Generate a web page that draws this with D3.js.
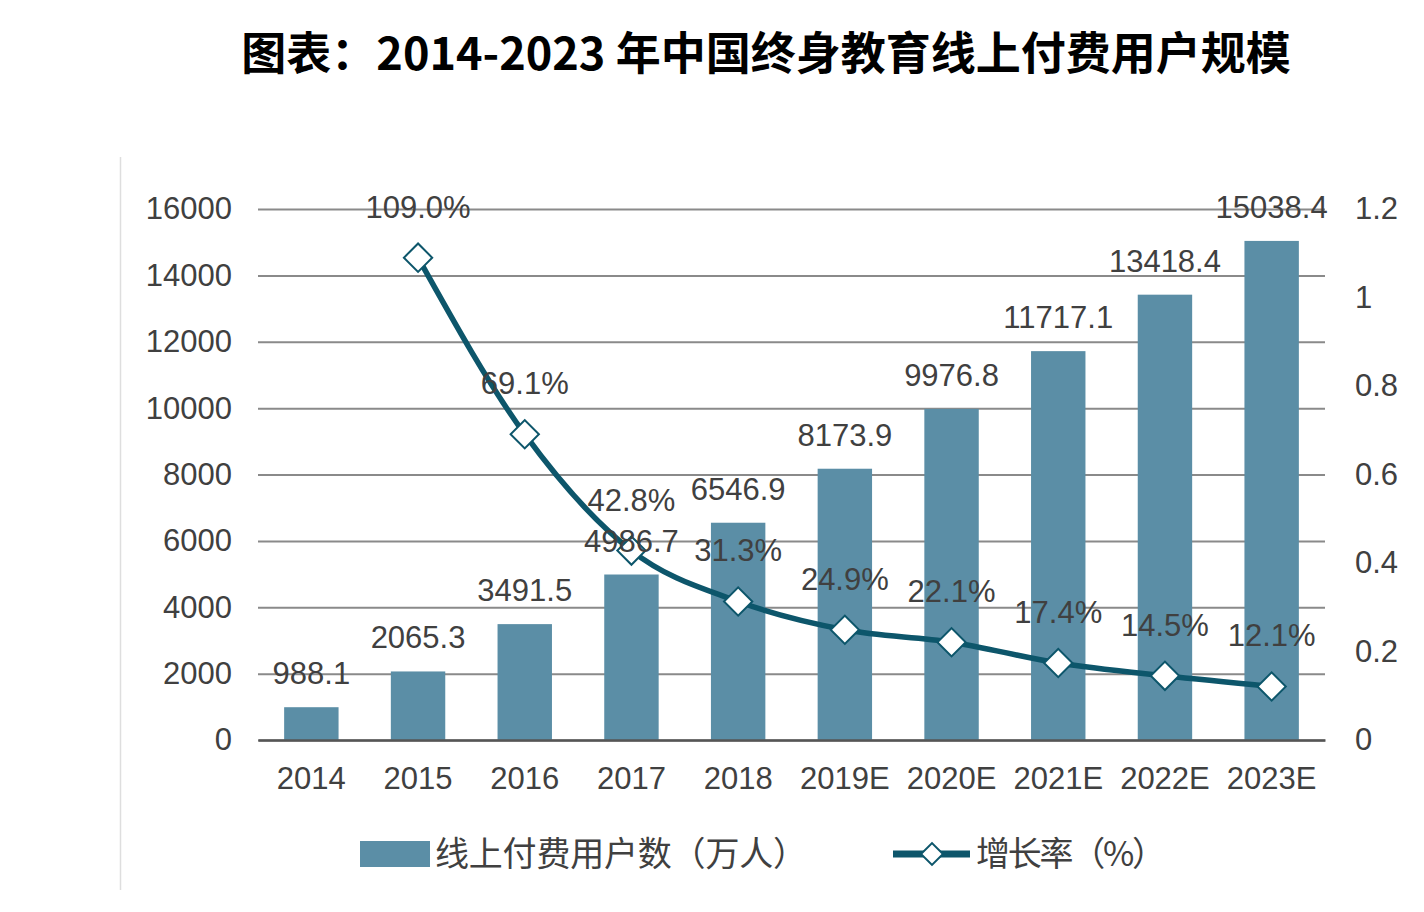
<!DOCTYPE html>
<html><head><meta charset="utf-8">
<script src="https://cdn.jsdelivr.net/npm/d3@7/dist/d3.min.js"></script>
<style>
html,body{margin:0;padding:0;background:#fff;}
svg{display:block;}
</style></head>
<body>
<svg id="chart" width="1424" height="912"></svg>
<script>
const title = "图表：2014-2023 年中国终身教育线上付费用户规模";
const categories = ["2014","2015","2016","2017","2018","2019E","2020E","2021E","2022E","2023E"];
const users = [988.1, 2065.3, 3491.5, 4986.7, 6546.9, 8173.9, 9976.8, 11717.1, 13418.4, 15038.4];
const userLabels = ["988.1","2065.3","3491.5","4986.7","6546.9","8173.9","9976.8","11717.1","13418.4","15038.4"];
const growth = [null, 1.09, 0.691, 0.428, 0.313, 0.249, 0.221, 0.174, 0.145, 0.121];
const growthLabels = [null, "109.0%", "69.1%", "42.8%", "31.3%", "24.9%", "22.1%", "17.4%", "14.5%", "12.1%"];
const leftTicks = [0,2000,4000,6000,8000,10000,12000,14000,16000];
const rightTicks = [0,0.2,0.4,0.6,0.8,1,1.2];
const rightTickLabels = ["0","0.2","0.4","0.6","0.8","1","1.2"];
const legendLabels = ["线上付费用户数（万人）","增长率（%）"];

(function(){
const svg = d3.select("#chart");
const font = "'Liberation Sans', Arial, sans-serif";
const barColor = "#5b8ea6";
const lineColor = "#0d566b";
const textColor = "#404040";

const pLeft = 258, pRight = 1325, pTop = 209, pBottom = 740;
const x = d3.scaleBand().domain(categories).range([pLeft, pRight]).paddingInner(0.49).paddingOuter(0.245);
const y = d3.scaleLinear().domain([0,16000]).range([pBottom, pTop]);
const y2 = d3.scaleLinear().domain([0,1.2]).range([pBottom, pTop]);

// title
svg.append("text").attr("x", 766).attr("y", 70).attr("text-anchor","middle")
  .attr("font-family","'Noto Sans CJK SC', sans-serif").attr("font-weight",700)
  .attr("font-size",45).attr("fill","#000").text(title);

// left border line
svg.append("line").attr("x1",120.5).attr("x2",120.5).attr("y1",157).attr("y2",890)
  .attr("stroke","#dedede").attr("stroke-width",1.5);

// gridlines
const yAxisL = d3.axisLeft(y).tickValues(leftTicks).tickSize(-(pRight-pLeft)).tickFormat(d=>d);
const gL = svg.append("g").attr("transform",`translate(${pLeft},0)`).call(yAxisL);
gL.select(".domain").remove();
gL.selectAll(".tick line").attr("stroke","#8a8a8a").attr("stroke-width",2);
gL.selectAll(".tick text").attr("x",-26).attr("font-family",font).attr("font-size",31).attr("fill",textColor);

const yAxisR = d3.axisRight(y2).tickValues(rightTicks).tickSize(0).tickFormat((d,i)=>rightTickLabels[i]);
const gR = svg.append("g").attr("transform",`translate(${pRight},0)`).call(yAxisR);
gR.select(".domain").remove();
gR.selectAll(".tick text").attr("x",30).attr("font-family",font).attr("font-size",31).attr("fill",textColor);

// bars
svg.append("g").selectAll("rect").data(users).join("rect")
  .attr("x",(d,i)=>x(categories[i])).attr("width",x.bandwidth())
  .attr("y",d=>y(d)).attr("height",d=>pBottom-y(d)).attr("fill",barColor);

// x axis
const xAxis = d3.axisBottom(x).tickSize(0);
const gX = svg.append("g").attr("transform",`translate(0,${pBottom})`).call(xAxis);
gX.select(".domain").attr("stroke","#555").attr("stroke-width",2.5);
gX.selectAll(".tick text").attr("dy",0).attr("y",49).attr("font-family",font).attr("font-size",31).attr("fill",textColor);

// line
const pts = growth.map((g,i)=>g==null?null:[x(categories[i])+x.bandwidth()/2, y2(g)]).filter(p=>p);
svg.append("path").datum(pts).attr("d", d3.line().curve(d3.curveMonotoneX))
  .attr("fill","none").attr("stroke",lineColor).attr("stroke-width",5.5);

svg.append("g").selectAll("path").data(pts).join("path")
  .attr("d", d3.symbol().type(d3.symbolSquare).size(400))
  .attr("transform",d=>`translate(${d[0]},${d[1]}) rotate(45)`)
  .attr("fill","#fff").attr("stroke",lineColor).attr("stroke-width",2);

// bar labels
svg.append("g").selectAll("text").data(users).join("text")
  .attr("x",(d,i)=>x(categories[i])+x.bandwidth()/2)
  .attr("y",d=>y(d)-23).attr("text-anchor","middle")
  .attr("font-family",font).attr("font-size",31).attr("fill",textColor)
  .text((d,i)=>userLabels[i]);

// growth labels
svg.append("g").selectAll("text").data(growth.map((g,i)=>({g,i})).filter(d=>d.g!=null)).join("text")
  .attr("x",d=>x(categories[d.i])+x.bandwidth()/2)
  .attr("y",d=>y2(d.g)-40).attr("text-anchor","middle")
  .attr("font-family",font).attr("font-size",31).attr("fill",textColor)
  .text(d=>growthLabels[d.i]);

// legend
const lg = svg.append("g");
lg.append("rect").attr("x",360).attr("y",841).attr("width",70).attr("height",26).attr("fill",barColor);
lg.append("text").attr("x",435).attr("y",866).attr("font-family","'Noto Sans CJK SC', sans-serif")
  .attr("font-size",34).attr("fill",textColor).attr("textLength",372).text(legendLabels[0]);
lg.append("line").attr("x1",893).attr("x2",970).attr("y1",854).attr("y2",854)
  .attr("stroke",lineColor).attr("stroke-width",7);
lg.append("path").attr("transform","translate(932,854) rotate(45)")
  .attr("d", d3.symbol().type(d3.symbolSquare).size(240))
  .attr("fill","#fff").attr("stroke",lineColor).attr("stroke-width",2);
lg.append("text").attr("x",976).attr("y",866).attr("font-family","'Noto Sans CJK SC', sans-serif")
  .attr("font-size",34).attr("fill",textColor).attr("textLength",190).text(legendLabels[1]);
})();
</script>
</body></html>
